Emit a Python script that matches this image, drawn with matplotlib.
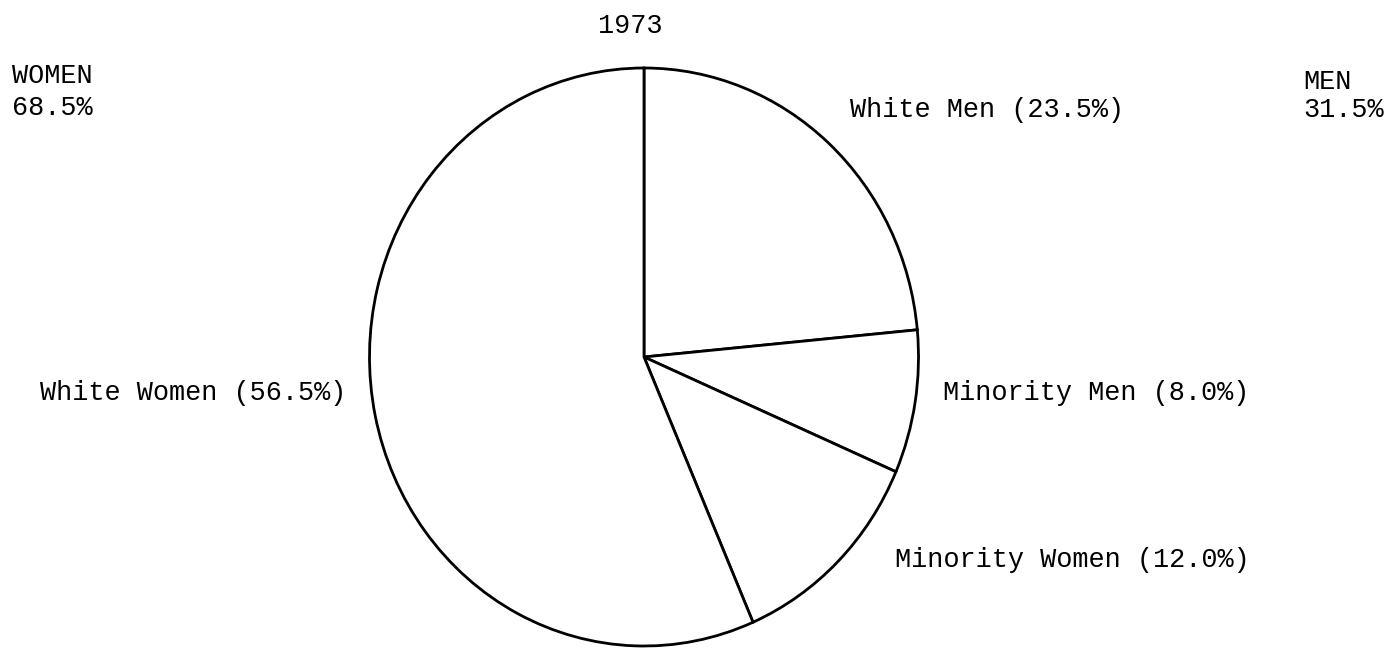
import matplotlib
matplotlib.use('Agg')
import matplotlib.pyplot as plt

# data
YEAR = "1973"
GROUPS = ['Women', 'Men']
GROUP_SHARES = [68.5, 31.5]
SLICES = ['White Men', 'Minority Men', 'Minority Women', 'White Women']
SHARES = [23.5, 8.0, 12.0, 56.5]

W, H = 1386, 648
FONT = dict(family=['Liberation Mono', 'DejaVu Sans Mono'], fontsize=19.4, color='black')


def px(x, y):
    # pixel position (from top left) -> figure fraction
    return x / W, 1 - y / H


fig = plt.figure(figsize=(W / 100, H / 100), dpi=100)
fig.patch.set_facecolor('white')

# pie sits in its own axes, stretched a bit taller than wide like the scan
cx, cy, rx, ry = 644, 357, 274.5, 289
ax = fig.add_axes([(cx - rx) / W, 1 - (cy + ry) / H, 2 * rx / W, 2 * ry / H])
wedges, _ = ax.pie(SHARES, startangle=90, counterclock=False, radius=1,
                   colors=['white'] * len(SHARES),
                   wedgeprops=dict(edgecolor='black', linewidth=2.0))
for w in wedges:
    w.set_clip_on(False)
ax.set_aspect('auto')
ax.set_xlim(-1, 1)
ax.set_ylim(-1, 1)
ax.axis('off')

# title
fig.text(*px(598, 33), YEAR, ha='left', va='baseline', **FONT)

# group totals in the corners
fig.text(*px(12, 83), GROUPS[0].upper(), ha='left', va='baseline', **FONT)
fig.text(*px(12, 115), f"{GROUP_SHARES[0]:.1f}%", ha='left', va='baseline', **FONT)
fig.text(*px(1303, 89), GROUPS[1].upper(), ha='left', va='baseline', **FONT)
fig.text(*px(1303, 117), f"{GROUP_SHARES[1]:.1f}%", ha='left', va='baseline', **FONT)

# slice labels
label_pos = {
    'White Men': (850, 117),
    'Minority Men': (943, 400),
    'Minority Women': (895, 567),
    'White Women': (40, 400),
}
for name, share in zip(SLICES, SHARES):
    x, y = label_pos[name]
    fig.text(*px(x, y), f"{name} ({share:.1f}%)", ha='left', va='baseline', **FONT)

fig.savefig('out.png', dpi=100, facecolor='white')
